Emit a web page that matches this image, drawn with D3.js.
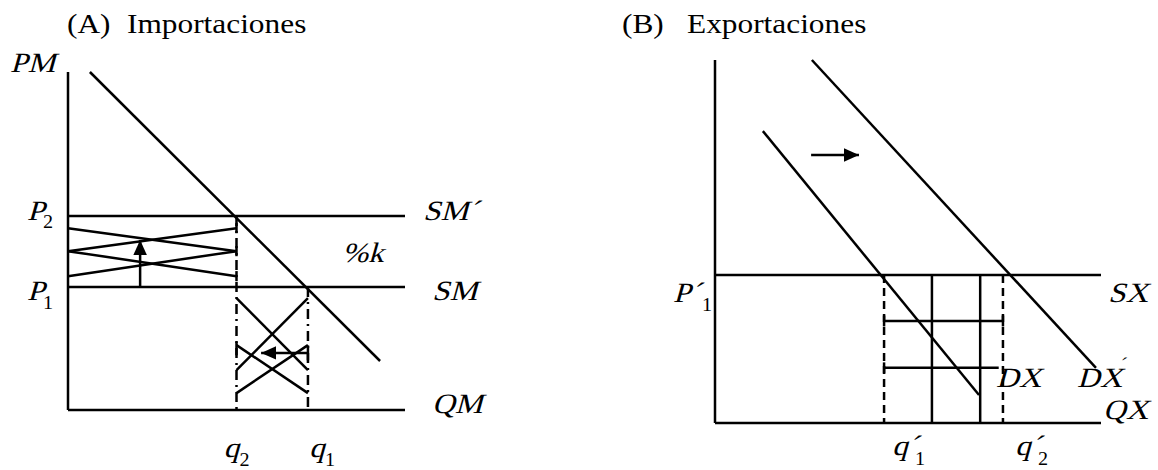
<!DOCTYPE html>
<html>
<head>
<meta charset="utf-8">
<script src="https://cdn.jsdelivr.net/npm/d3@7"></script>
<style>
  body { margin: 0; background: #fff; }
  svg { display: block; }
  text { font-family: "Liberation Serif", "Times New Roman", serif; fill: #000; }
</style>
</head>
<body>
<div id="chart"></div>
<script>
// ---- data (chart units, 0..100 on each axis) ----
// Panel A: imports
const demandM = [[6.5, 100], [92.6, 14.5]];
const pricesM = [57.4, 36.4];          // P2, P1
const quantitiesM = [50, 71.2];        // q2, q1
const tariffCrossY = [53.8, 47.0, 39.6];
const quotaCrossY = [[33.1, 11.8], [19.2, 5.0]];
const arrowUpM = [[21.4, 36.4], [21.4, 50.3]];
const arrowLeftM = [[71.2, 16.9], [57.3, 16.9]];

// Panel B: exports
const demandX = [[12.4, 80.4], [68.4, 7.7]];
const demandX2 = [[25.1, 100], [98.7, 15.2]];
const supplyX = 40.8;
const quantitiesX = [43.8, 74.6];      // q'1, q'2
const subsidyCols = [56.2, 68.7];
const subsidyRows = [[28.1, 74.6], [15.2, 73.5]];
const arrowRightX = [[24.9, 73.8], [37.3, 73.8]];

const W = 1158, H = 470;
const svg = d3.select("#chart").append("svg")
    .attr("width", W)
    .attr("height", H);

svg.append("defs").append("marker")
    .attr("id", "head")
    .attr("viewBox", "0 0 10 10")
    .attr("refX", 10)
    .attr("refY", 5)
    .attr("markerUnits", "userSpaceOnUse")
    .attr("markerWidth", 15)
    .attr("markerHeight", 15)
    .attr("orient", "auto")
  .append("path")
    .attr("d", "M0,0.5L10,5L0,9.5Z")
    .attr("fill", "#000");

const SW = 2.5;
const FS = 28, SUB = 18;

function seg(g, x, y, p0, p1, dash, marker) {
    const l = g.append("line")
        .attr("x1", x(p0[0])).attr("y1", y(p0[1]))
        .attr("x2", x(p1[0])).attr("y2", y(p1[1]))
        .attr("stroke", "#000")
        .attr("stroke-width", SW);
    if (dash) l.attr("stroke-dasharray", dash);
    if (marker) l.attr("marker-end", "url(#head)");
    return l;
}

// text is a bit wide in the original, so stretch it; italic is faked with a skew
function label(g, txt, x, y, size, italic) {
    return g.append("text")
        .attr("transform", `translate(${x},${y}) scale(1.12,1)` + (italic ? " skewX(-14)" : ""))
        .style("font-size", size + "px")
        .text(txt);
}

// ================= Panel A =================
const xA = d3.scaleLinear().domain([0, 100]).range([68, 405]);
const yA = d3.scaleLinear().domain([0, 100]).range([410, 72]);
const gA = svg.append("g");

label(gA, "(A)", 67, 33, FS, false);
label(gA, "Importaciones", 127, 33, FS, false);

// axes
seg(gA, xA, yA, [0, 100], [0, 0]);
seg(gA, xA, yA, [0, 0], [100, 0]);

// supply lines SM' and SM
pricesM.forEach(p => seg(gA, xA, yA, [0, p], [100, p]));

// demand
seg(gA, xA, yA, demandM[0], demandM[1]);

// dash-dot verticals at q2 and q1
const dashDot = "10,5,2,5";
seg(gA, xA, yA, [quantitiesM[0], pricesM[0]], [quantitiesM[0], 0], dashDot);
seg(gA, xA, yA, [quantitiesM[1], pricesM[1]], [quantitiesM[1], 0], dashDot);

// tariff area crosses (between P1 and P2)
for (let i = 0; i < tariffCrossY.length - 1; i++) {
    const a = tariffCrossY[i], b = tariffCrossY[i + 1];
    seg(gA, xA, yA, [0, a], [quantitiesM[0], b]);
    seg(gA, xA, yA, [0, b], [quantitiesM[0], a]);
}
tariffCrossY.forEach(v => seg(gA, xA, yA, [quantitiesM[0], v + 1.5], [quantitiesM[0], v - 1.5]));

// quantity loss crosses (between q2 and q1)
quotaCrossY.forEach(([a, b]) => {
    seg(gA, xA, yA, [quantitiesM[0], a], [quantitiesM[1], b]);
    seg(gA, xA, yA, [quantitiesM[0], b], [quantitiesM[1], a]);
});

// arrows
seg(gA, xA, yA, arrowUpM[0], arrowUpM[1], null, true);
seg(gA, xA, yA, arrowLeftM[0], arrowLeftM[1], null, true);
seg(gA, xA, yA, [arrowLeftM[0][0], arrowLeftM[0][1] + 2.2], [arrowLeftM[0][0], arrowLeftM[0][1] - 2.2]);
seg(gA, xA, yA, [quantitiesM[0], quotaCrossY[1][0] + 1], [quantitiesM[0], quotaCrossY[1][0] - 3]);

// labels
label(gA, "PM", 10, yA(100), FS, true);
label(gA, "P", 27, yA(pricesM[0]) + 4, FS, true);
label(gA, "2", 43, yA(pricesM[0]) + 12, SUB, false);
label(gA, "P", 27, yA(pricesM[1]) + 13, FS, true);
label(gA, "1", 43, yA(pricesM[1]) + 22, SUB, false);
label(gA, "SM´", 423, yA(pricesM[0]) + 4, FS, true);
label(gA, "%k", 342, 262, FS, true);
label(gA, "SM", 432, yA(pricesM[1]) + 13, FS, true);
label(gA, "QM", 432, yA(0) + 3, FS, true);
label(gA, "q", xA(quantitiesM[0]) - 13, 457, FS, true);
label(gA, "2", xA(quantitiesM[0]) + 3, 466, SUB, false);
label(gA, "q", xA(quantitiesM[1]) + 1, 457, FS, true);
label(gA, "1", xA(quantitiesM[1]) + 17, 466, SUB, false);

// ================= Panel B =================
const xB = d3.scaleLinear().domain([0, 100]).range([715, 1101]);
const yB = d3.scaleLinear().domain([0, 100]).range([423, 60]);
const gB = svg.append("g");

label(gB, "(B)", 622, 33, FS, false);
label(gB, "Exportaciones", 687, 33, FS, false);

// axes
seg(gB, xB, yB, [0, 100], [0, 0]);
seg(gB, xB, yB, [0, 0], [100, 0]);

// supply SX
seg(gB, xB, yB, [0, supplyX], [100, supplyX]);

// demand curves
seg(gB, xB, yB, demandX[0], demandX[1]);
seg(gB, xB, yB, demandX2[0], demandX2[1]);

// dashed verticals at q'1 and q'2
quantitiesX.forEach(q => seg(gB, xB, yB, [q, supplyX], [q, 0], "8,5"));

// subsidy grid
subsidyCols.forEach(c => seg(gB, xB, yB, [c, supplyX], [c, 0]));
subsidyRows.forEach(([r, end]) => seg(gB, xB, yB, [quantitiesX[0], r], [end, r]));
subsidyRows.forEach(([r]) => {
    seg(gB, xB, yB, [quantitiesX[0], r + 1.5], [quantitiesX[0], r - 1.5]);
});
seg(gB, xB, yB, [quantitiesX[1], subsidyRows[0][0] + 1.5], [quantitiesX[1], subsidyRows[0][0] - 1.5]);

// shift arrow
seg(gB, xB, yB, arrowRightX[0], arrowRightX[1], null, true);

// labels
label(gB, "P´", 673, yB(supplyX) + 27, FS, true);
label(gB, "1", 702, yB(supplyX) + 36, SUB, false);
label(gB, "SX", 1108, yB(supplyX) + 27, FS, true);
label(gB, "DX", 996, 387, FS, true);
label(gB, "DX", 1077, 387, FS, true);
label(gB, "´", 1118, 370, SUB, true);
label(gB, "QX", 1103, yB(0) - 4, FS, true);
label(gB, "q´", xB(quantitiesX[0]) + 8, 455, FS, true);
label(gB, "1", xB(quantitiesX[0]) + 31, 465, SUB, false);
label(gB, "q´", xB(quantitiesX[1]) + 12, 455, FS, true);
label(gB, "2", xB(quantitiesX[1]) + 35, 465, SUB, false);
</script>
</body>
</html>
